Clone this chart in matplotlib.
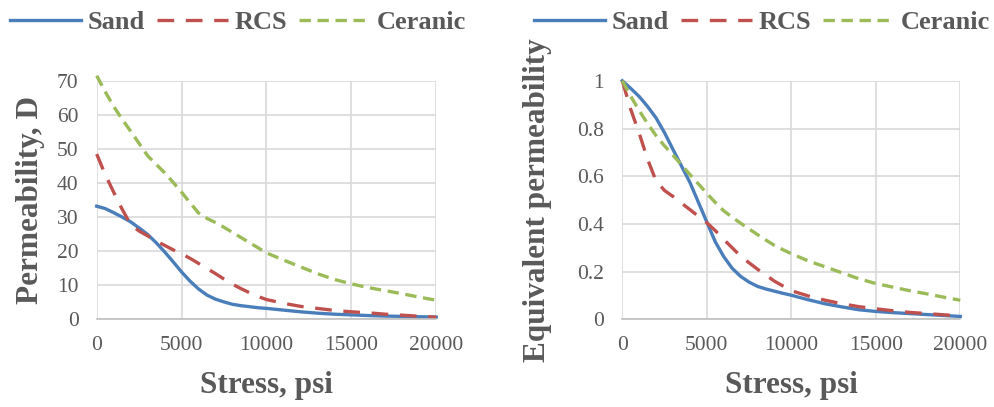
import numpy as np
import matplotlib
matplotlib.use("Agg")
import matplotlib.pyplot as plt

plt.rcParams["font.family"] = ["Liberation Serif", "DejaVu Serif"]

stress = [0, 500, 1000, 1500, 2000, 2500, 3000, 3500, 4000, 4500, 5000,
          5500, 6000, 6500, 7000, 7500, 8000, 8500, 9000, 9500, 10000,
          11000, 12000, 13000, 14000, 15000, 16000, 17000, 18000, 19000, 20000]

# permeability, D
sand_k = [33.2, 32.5, 31.3, 30.0, 28.6, 26.8, 24.9, 22.5, 19.8, 16.9, 13.9,
          11.2, 8.9, 7.1, 5.9, 5.1, 4.4, 4.0, 3.7, 3.4, 3.2,
          2.7, 2.2, 1.8, 1.5, 1.3, 1.1, 0.95, 0.85, 0.75, 0.65]
rcs_k = [48.5, 42.5, 37.3, 32.3, 27.8, 25.9, 24.5, 23.0, 21.7, 20.4, 19.2,
         17.9, 16.4, 14.9, 13.4, 11.8, 10.3, 9.0, 7.8, 6.7, 5.8,
         4.7, 3.8, 3.2, 2.6, 2.2, 1.9, 1.5, 1.2, 0.9, 0.6]
cer_k = [71.5, 66.8, 62.5, 58.7, 55.2, 51.6, 48.0, 45.5, 43.0, 40.2, 37.3,
         34.2, 31.2, 29.6, 28.4, 27.0, 25.5, 24.0, 22.5, 21.0, 19.5,
         17.4, 15.4, 13.4, 11.7, 10.4, 9.3, 8.4, 7.5, 6.5, 5.6]

# equivalent permeability
sand_e = [1.0, 0.968, 0.934, 0.892, 0.844, 0.782, 0.712, 0.643, 0.574, 0.491, 0.408,
          0.325, 0.263, 0.214, 0.18, 0.156, 0.138, 0.127, 0.118, 0.109, 0.101,
          0.082, 0.065, 0.052, 0.04, 0.033, 0.028, 0.024, 0.02, 0.016, 0.012]
rcs_e = [1.0, 0.88, 0.78, 0.67, 0.58, 0.54, 0.515, 0.487, 0.46, 0.432, 0.405,
         0.372, 0.335, 0.30, 0.265, 0.237, 0.21, 0.185, 0.16, 0.14, 0.12,
         0.098, 0.08, 0.065, 0.053, 0.044, 0.036, 0.029, 0.024, 0.019, 0.014]
cer_e = [1.0, 0.935, 0.875, 0.82, 0.77, 0.727, 0.688, 0.648, 0.607, 0.568, 0.528,
         0.49, 0.455, 0.428, 0.403, 0.379, 0.355, 0.332, 0.31, 0.292, 0.275,
         0.245, 0.22, 0.195, 0.17, 0.15, 0.135, 0.12, 0.107, 0.093, 0.08]

names = ["Sand", "RCS", "Ceranic"]
colors = ["#4A7EBB", "#C0504D", "#9BBB59"]
styles = [dict(ls="-"), dict(ls=(0, (5, 3.5))), dict(ls=(0, (3.4, 2.0)))]
grey = "#595959"

fig = plt.figure(figsize=(9.94, 4.07), dpi=100)
axL = fig.add_axes([96.7/994, 1-319.3/407, 339.5/994, 238.5/407])
axR = fig.add_axes([622.3/994, 1-319.3/407, 338/994, 238.5/407])

def style_ax(ax, ymax, ystep, ylabel, fmt, ylab_x):
    ax.set_xlim(0, 20000)
    ax.set_ylim(0, ymax)
    ax.set_xticks(np.arange(0, 20001, 5000))
    ax.set_yticks(np.arange(0, ymax + 1e-9, ystep))
    ax.set_yticklabels([fmt(v) for v in np.arange(0, ymax + 1e-9, ystep)])
    ax.grid(True, color="#D9D9D9", lw=1.2)
    ax.set_axisbelow(True)
    for s in ["top", "right", "left"]:
        ax.spines[s].set_visible(False)
    ax.spines["bottom"].set_color("#BFBFBF")
    ax.spines["bottom"].set_linewidth(1.2)
    ax.tick_params(length=0, labelsize=15.5, colors=grey)
    ax.tick_params(axis="x", pad=12)
    ax.tick_params(axis="y", pad=13)
    ax.set_xlabel("Stress, psi", fontsize=22.5, fontweight="bold", color=grey, va="center")
    ax.set_ylabel(ylabel, fontsize=22.5, fontweight="bold", color=grey, va="center")
    ax.xaxis.set_label_coords(0.5, (319.3 - 385) / 238.5)
    ax.yaxis.set_label_coords(ylab_x, 0.5)

for i, ys in enumerate([sand_k, rcs_k, cer_k]):
    axL.plot(stress, ys, color=colors[i], lw=2.4, label=names[i], clip_on=False, **styles[i])
for i, ys in enumerate([sand_e, rcs_e, cer_e]):
    axR.plot(stress, ys, color=colors[i], lw=2.4, label=names[i], clip_on=False, **styles[i])

style_ax(axL, 70, 10, "Permeability, D", lambda v: f"{v:.0f}", (31 - 96.7) / 339.5)
style_ax(axR, 1.0, 0.2, "Equivalent permeability",
         lambda v: "0" if v == 0 else ("1" if v == 1 else f"{v:.1f}"), (537 - 622.3) / 338)

for ax, cx in [(axL, 238/994), (axR, 762/994)]:
    fig.legend(*ax.get_legend_handles_labels(), loc="center", bbox_to_anchor=(cx, 1-22/407),
               ncol=3, frameon=False, handlelength=2.7, handletextpad=0.25, columnspacing=0.45,
               borderaxespad=0, prop=dict(size=19, weight="bold"), labelcolor=grey)

fig.savefig("out.png", dpi=100)
